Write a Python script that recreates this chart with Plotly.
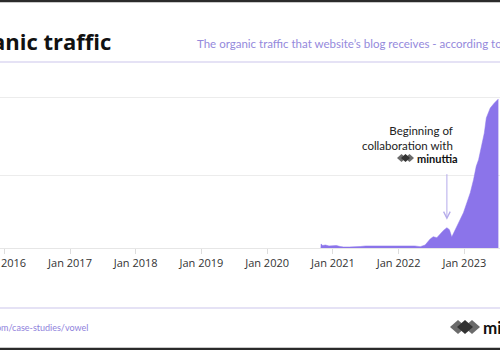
import plotly.graph_objects as go

# ---- data ----
dates = [
    "2020-10-24", "2020-10-27", "2020-11-05", "2020-11-20", "2020-12-10",
    "2021-01-01", "2021-01-20", "2021-02-10", "2021-03-01", "2021-04-01",
    "2021-05-01", "2021-06-01", "2021-07-01", "2021-08-01", "2021-09-01",
    "2021-10-01", "2021-11-01", "2021-12-01", "2022-01-01", "2022-02-01",
    "2022-03-01", "2022-04-01", "2022-05-01", "2022-05-28", "2022-06-25",
    "2022-07-12", "2022-08-01", "2022-08-19", "2022-09-07", "2022-09-26",
    "2022-10-10", "2022-10-23", "2022-11-01", "2022-11-20", "2022-12-08",
    "2022-12-27", "2023-01-15", "2023-02-03", "2023-02-21", "2023-03-08",
    "2023-03-21", "2023-04-09", "2023-04-22", "2023-05-03", "2023-05-25",
    "2023-06-17", "2023-07-09",
]
traffic = [
    0, 625, 530, 560, 500,
    500, 530, 465, 435, 435,
    430, 465, 500, 500, 530,
    530, 530, 500, 500, 530,
    500, 500, 455, 561, 944,
    1091, 1027, 1282, 1493, 1665,
    1538, 1072, 1282, 1748, 2220,
    2622, 3260, 3898, 4728, 5576,
    6003, 6960, 7707, 8664, 9302,
    9621, 9876,
]
grid_values = [5000, 10000]
arrow_date = "2022-09-26"
arrow_value = 2176

title_text = "Organic traffic"
subtitle_text = "The organic traffic that website’s blog receives - according to Ahrefs"
note_text = "Beginning of<br>collaboration with"
brand_text = "minuttia"
footer_text = "https://minuttia.com/case-studies/vowel"

W, H = 500, 350
T, B = 75, 102
PH = H - T - B

def X(px):
    return px / W

def Y(py):
    return (H - B - py) / PH

FONT = "Lato"
FONT2 = "Open Sans"
PURPLE = "#8B74EA"
LAV = "#dcd8f2"

fig = go.Figure()
fig.add_trace(go.Scatter(
    x=dates, y=traffic, mode="lines", fill="tozeroy",
    line=dict(color=PURPLE, width=0.5), fillcolor=PURPLE,
    hoverinfo="skip", showlegend=False,
))

shapes = []
shapes.append(dict(type="line", xref="paper", yref="paper", x0=0, x1=1, y0=Y(1), y1=Y(1),
                   line=dict(color="#2b2b2b", width=2.5)))
shapes.append(dict(type="line", xref="paper", yref="paper", x0=0, x1=1, y0=Y(349), y1=Y(349),
                   line=dict(color="#2b2b2b", width=2.5)))
shapes.append(dict(type="line", xref="paper", yref="paper", x0=0, x1=1, y0=Y(62), y1=Y(62),
                   line=dict(color=LAV, width=1.5)))
shapes.append(dict(type="line", xref="paper", yref="paper", x0=0, x1=1, y0=Y(308), y1=Y(308),
                   line=dict(color=LAV, width=1.5)))

def diamonds(cx_list, cy, hw, hh, colors):
    out = []
    for cx, col in zip(cx_list, colors):
        path = (f"M {X(cx - hw)},{Y(cy)} L {X(cx)},{Y(cy - hh)} "
                f"L {X(cx + hw)},{Y(cy)} L {X(cx)},{Y(cy + hh)} Z")
        out.append(dict(type="path", xref="paper", yref="paper", path=path,
                        fillcolor=col, line=dict(width=0)))
    return out

shapes += diamonds([401.5, 409.5, 405.5], 158, 4.5, 4, ["#6b6b6b", "#6b6b6b", "#333333"])
shapes += diamonds([458, 472, 465], 327, 8, 7, ["#6b6b6b", "#6b6b6b", "#333333"])

annotations = [
    dict(xref="paper", yref="paper", x=X(113), y=Y(41), xanchor="right", yanchor="middle",
         text=f"<b>{title_text}</b>", showarrow=False,
         font=dict(family=FONT2, size=22, color="#111111")),
    dict(xref="paper", yref="paper", x=X(195), y=Y(44), xanchor="left", yanchor="middle",
         text=subtitle_text, showarrow=False,
         font=dict(family=FONT, size=11.5, color="#9489dc")),
    dict(xref="paper", yref="paper", x=X(455), y=Y(138), xanchor="right", yanchor="middle",
         text=note_text, showarrow=False, align="right",
         font=dict(family=FONT, size=11.5, color="#222222")),
    dict(xref="paper", yref="paper", x=X(415), y=Y(158), xanchor="left", yanchor="middle",
         text=f"<b>{brand_text}</b>", showarrow=False,
         font=dict(family=FONT, size=11, color="#111111")),
    dict(xref="x", yref="y", x=arrow_date, y=arrow_value, text="", showarrow=True,
         ax=0, ay=-47, arrowhead=5, arrowsize=1.3, arrowwidth=1, arrowcolor="#b4aaea"),
    dict(xref="paper", yref="paper", x=X(90), y=Y(327), xanchor="right", yanchor="middle",
         text=footer_text, showarrow=False,
         font=dict(family=FONT, size=9, color="#8f82dc")),
    dict(xref="paper", yref="paper", x=X(481), y=Y(327), xanchor="left", yanchor="middle",
         text=f"<b>{brand_text}</b>", showarrow=False,
         font=dict(family=FONT, size=17, color="#111111")),
]

fig.update_layout(
    width=W, height=H,
    margin=dict(l=0, r=0, t=T, b=B, pad=0, autoexpand=False),
    paper_bgcolor="white", plot_bgcolor="white",
    showlegend=False,
    shapes=shapes, annotations=annotations,
    xaxis=dict(
        type="date", range=["2015-12-09", "2023-07-18"],
        tick0="2016-01-01", dtick="M12", tickformat="%b %Y",
        ticks="outside", ticklen=5, tickcolor="#dddddd",
        ticklabeloverflow="allow", automargin=False,
        showline=True, linecolor="#e6e6e6", linewidth=1,
        showgrid=False, zeroline=False,
        tickfont=dict(family=FONT2, size=11, color="#333333"),
    ),
    yaxis=dict(
        range=[370, 370 + PH / 0.01568],
        tickvals=grid_values, showticklabels=False, automargin=False,
        showgrid=True, gridcolor="#ececec", gridwidth=1,
        zeroline=False, showline=False,
    ),
)

fig.write_html("out.html")
